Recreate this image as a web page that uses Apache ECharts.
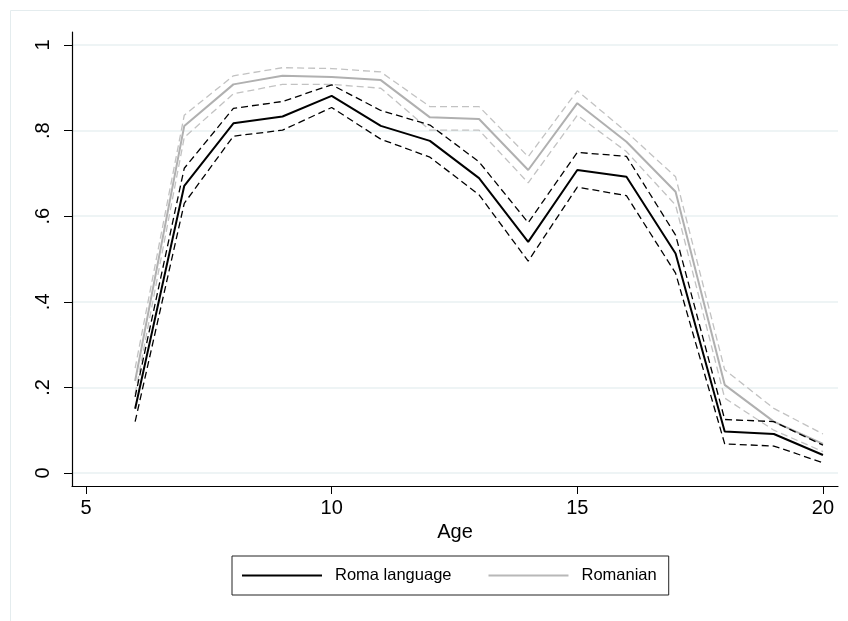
<!DOCTYPE html>
<html>
<head>
<meta charset="utf-8">
<script src="https://cdn.jsdelivr.net/npm/echarts@6/dist/echarts.min.js"></script>
<style>html,body{margin:0;padding:0;background:#fff;}#c{width:848px;height:621px;}</style>
</head>
<body>
<div id="c"></div>
<script>
const ages = [6,7,8,9,10,11,12,13,14,15,16,17,18,19,20];
const roma       = [0.150,0.671,0.817,0.833,0.881,0.811,0.776,0.689,0.540,0.708,0.692,0.513,0.097,0.091,0.042];
const romaHi     = [0.178,0.712,0.852,0.868,0.907,0.847,0.813,0.727,0.585,0.749,0.740,0.556,0.125,0.120,0.065];
const romaLo     = [0.120,0.630,0.787,0.801,0.854,0.780,0.738,0.650,0.495,0.668,0.648,0.467,0.068,0.063,0.024];
const romanian   = [0.215,0.811,0.908,0.928,0.925,0.918,0.831,0.827,0.708,0.864,0.774,0.657,0.206,0.120,0.068];
const romanianHi = [0.245,0.836,0.928,0.947,0.945,0.937,0.856,0.856,0.739,0.893,0.797,0.692,0.241,0.151,0.091];
const romanianLo = [0.185,0.784,0.886,0.908,0.908,0.899,0.801,0.801,0.678,0.836,0.751,0.626,0.175,0.100,0.050];
const xTicks = [5,10,15,20];
const yTicks = [0,0.2,0.4,0.6,0.8,1];
const yTickLabels = ['0','.2','.4','.6','.8','1'];
const seriesNames = ['Roma language','Romanian'];

const pts = arr => ages.map((a,i)=>[a,arr[i]]);
const FONT = '"Liberation Sans", Arial, sans-serif';
const chart = echarts.init(document.getElementById('c'), null, {renderer:'canvas'});
function line(name, arr, color, width, dashed, z){
  return {name:name, type:'line', data:pts(arr), symbol:'none', z:z, silent:true,
    lineStyle:{color:color, width:width, type: dashed ? [7,4] : 'solid'},
    itemStyle:{color:color}};
}
chart.setOption({
  animation:false,
  backgroundColor:'#fff',
  graphic:[{type:'rect', shape:{x:10.5,y:10.5,width:900,height:700}, style:{fill:null, stroke:'#e4ecee', lineWidth:1}, silent:true, z:-10}],
  grid:{left:72, right:10, top:32, bottom:135, containLabel:false},
  xAxis:{type:'value', min:4.715, max:20.306,
    name:'Age', nameLocation:'middle', nameGap:32,
    nameTextStyle:{fontFamily:FONT, fontSize:20, color:'#000'},
    axisLine:{show:true, onZero:false, lineStyle:{color:'#000', width:1.2}},
    axisTick:{show:true, length:8, customValues:xTicks, lineStyle:{color:'#000', width:1}},
    axisLabel:{customValues:xTicks, margin:12, fontFamily:FONT, fontSize:20, color:'#000'},
    splitLine:{show:false}},
  yAxis:{type:'value', min:-0.0304, max:1.0304,
    axisLine:{show:true, onZero:false, lineStyle:{color:'#000', width:1.2}},
    axisTick:{show:true, length:8, customValues:yTicks, lineStyle:{color:'#000', width:1}},
    axisLabel:{customValues:yTicks, rotate:90, margin:19, fontFamily:FONT, fontSize:20, color:'#000',
      formatter:v=>{const i=yTicks.findIndex(t=>Math.abs(t-v)<1e-9); return i>=0?yTickLabels[i]:'';}},
    splitLine:{show:true, lineStyle:{color:'#e8f0f2', width:1.5}}},
  legend:{data:[{name:seriesNames[0], icon:'rect', itemStyle:{color:'#000'}},
                {name:seriesNames[1], icon:'rect', itemStyle:{color:'#b8b8b8'}}],
    left:232, top:556, orient:'horizontal',
    padding:[10,12,10,10], itemWidth:80, itemHeight:2, itemGap:37,
    borderColor:'#222', borderWidth:1, borderRadius:0, backgroundColor:'#fff',
    textStyle:{fontFamily:FONT, fontSize:16.5, color:'#000', padding:[0,0,0,8], lineHeight:19}},
  series:[
    line('RomanianHi', romanianHi, '#c2c2c2', 1.3, true, 2),
    line('RomanianLo', romanianLo, '#c2c2c2', 1.3, true, 2),
    line(seriesNames[1], romanian, '#b0b0b0', 2, false, 3),
    line('RomaHi', romaHi, '#000', 1.3, true, 4),
    line('RomaLo', romaLo, '#000', 1.3, true, 4),
    line(seriesNames[0], roma, '#000', 2, false, 5)
  ]
});
</script>
</body>
</html>
